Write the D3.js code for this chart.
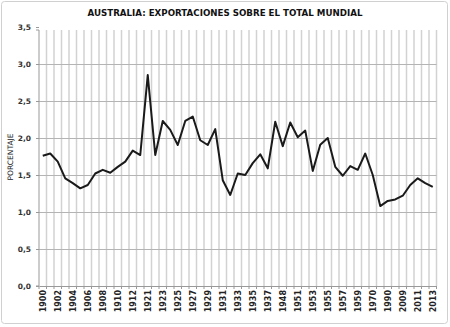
<!DOCTYPE html>
<html><head><meta charset="utf-8">
<script src="https://cdn.jsdelivr.net/npm/d3@7"></script>
<style>body{margin:0;background:#fff}svg{display:block}</style>
</head><body>
<script>
const years = ["1900","1901","1902","1903","1904","1905","1906","1907","1908","1909","1910","1911","1912","1913",
  "1921","1922","1923","1924","1925","1926","1927","1928","1929","1930","1931","1932","1933","1934","1935","1936","1937","1938",
  "1948","1950","1951","1952","1953","1954","1955","1956","1957","1958","1959","1960","1970","1980","1990","2000",
  "2009","2010","2011","2012","2013"];
const share = [1.76,1.79,1.68,1.455,1.39,1.32,1.365,1.52,1.57,1.53,1.61,1.68,1.83,1.77,
  2.85,1.77,2.23,2.11,1.905,2.23,2.29,1.97,1.905,2.12,1.43,1.23,1.52,1.50,1.66,1.78,1.59,2.22,
  1.89,2.21,2.01,2.10,1.555,1.91,2.0,1.61,1.49,1.62,1.57,1.79,1.50,1.08,1.15,1.17,
  1.22,1.365,1.455,1.39,1.34];
const yTicks = [0,0.5,1,1.5,2,2.5,3,3.5];
const title = "AUSTRALIA: EXPORTACIONES SOBRE EL TOTAL MUNDIAL";
const yTitle = "PORCENTAJE";

const W = 450, H = 327;
const svg = d3.select("body").append("svg").attr("width", W).attr("height", H);
svg.append("rect").attr("x",1.5).attr("y",1.5).attr("width",446).attr("height",322)
  .attr("fill","#fff").attr("stroke","#d0d0d0").attr("rx",3);

const L = 39, R = 436.5, T = 28, B = 286;
const idx = d3.range(years.length);
const x = d3.scaleBand().domain(idx).range([L, R]);
const y = d3.scaleLinear().domain([0, 3.5]).range([B, T - 1]);

// vertical gridlines at category boundaries
const g = svg.append("g");
g.selectAll("line.v").data(idx.slice(1).concat([years.length])).enter().append("line")
  .attr("x1", d => L + d * x.bandwidth()).attr("x2", d => L + d * x.bandwidth())
  .attr("y1", T + 2).attr("y2", B).attr("stroke", "#d2d2d2").attr("stroke-width", 1.5);
// horizontal gridlines
g.selectAll("line.h").data(yTicks.filter(d => d > 0 && d < 3.5)).enter().append("line")
  .attr("x1", L).attr("x2", R).attr("y1", d => Math.round(y(d)) + 0.5).attr("y2", d => Math.round(y(d)) + 0.5)
  .attr("stroke", "#b4b4b4").attr("stroke-width", 1);

// y axis
const yAxis = svg.append("g").attr("transform", `translate(${L},0)`)
  .call(d3.axisLeft(y).tickValues(yTicks).tickSize(3).tickFormat(d => d3.format(".1f")(d).replace(".", ",")));
yAxis.select(".domain").attr("stroke", "#999").attr("d", `M-3,${T+2}H0V${B}H-3`);
yAxis.selectAll(".tick line").attr("stroke", "#999");
yAxis.selectAll(".tick text").attr("x", -8).attr("fill", "#333")
  .style("font-family", "DejaVu Sans, Verdana, sans-serif").style("font-size", "7.5px").style("font-weight", "bold");

// x axis
const xAxis = svg.append("g").attr("transform", `translate(0,${B})`)
  .call(d3.axisBottom(x).tickValues(idx.filter(i => i % 2 === 0)).tickSize(0).tickFormat(i => years[i]));
xAxis.select(".domain").attr("stroke", "#999");
xAxis.selectAll(".tick text").attr("transform", "rotate(-90)").attr("x", -4).attr("y", 0).attr("dy", "0.35em")
  .attr("text-anchor", "end").attr("fill", "#222")
  .style("font-family", "DejaVu Sans, Verdana, sans-serif").style("font-size", "8px").style("font-weight", "bold");
// small tick marks at boundaries
svg.append("g").selectAll("line").data(d3.range(years.length + 1)).enter().append("line")
  .attr("x1", d => L + d * x.bandwidth()).attr("x2", d => L + d * x.bandwidth())
  .attr("y1", B).attr("y2", B + 3).attr("stroke", "#999");

// line
const line = d3.line().x((d, i) => x(i) + x.bandwidth() / 2).y(d => y(d)).curve(d3.curveLinear);
svg.append("path").datum(share).attr("d", line).attr("fill", "none")
  .attr("stroke", "#1a1a1a").attr("stroke-width", 2).attr("stroke-linejoin", "round");

// titles
svg.append("text").attr("x", 225).attr("y", 16).attr("text-anchor", "middle")
  .attr("textLength", 275).attr("lengthAdjust", "spacingAndGlyphs")
  .style("font-family", "DejaVu Sans, Verdana, sans-serif").style("font-size", "8.5px").style("font-weight", "bold")
  .attr("fill", "#111").text(title);
svg.append("text").attr("transform", `translate(13,${(T + B) / 2}) rotate(-90)`).attr("text-anchor", "middle")
  .style("font-family", "DejaVu Sans, Verdana, sans-serif").style("font-size", "7.5px")
  .attr("fill", "#222").text(yTitle);
</script>
</body></html>
